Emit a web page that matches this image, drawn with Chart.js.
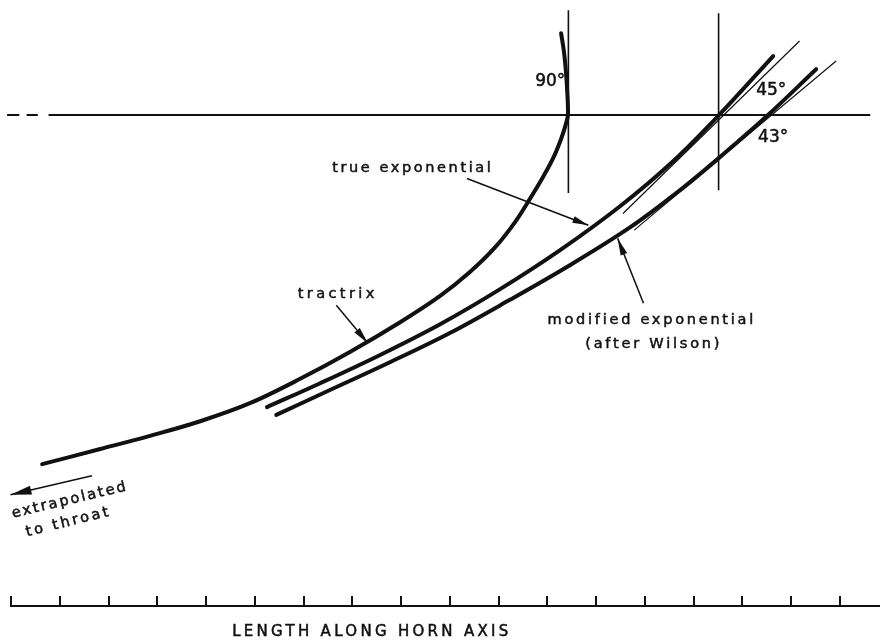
<!DOCTYPE html>
<html>
<head>
<meta charset="utf-8">
<title>Horn flare profiles</title>
<script src="https://cdn.jsdelivr.net/npm/chart.js@4.4.1/dist/chart.umd.min.js"></script>
<style>
  html, body { margin: 0; padding: 0; background: #fff; }
  #wrap { width: 880px; height: 640px; }
</style>
</head>
<body>
<div id="wrap"><canvas id="hornChart"></canvas></div>
<script>
// units: one tick of the horn axis, same unit used for the radius
const axisTicks = [0, 1, 2, 3, 4, 5, 6, 7, 8, 9, 10, 11, 12, 13, 14, 15, 16, 17];

const tractrixX = [0.64, 1.83, 2.85, 3.88, 4.90, 5.93, 6.95, 7.98, 8.80, 9.41, 9.93, 10.34, 10.64, 10.91, 11.12, 11.28, 11.38, 11.42, 11.41, 11.38, 11.34, 11.28];
const tractrixY = [2.91, 3.22, 3.49, 3.79, 4.16, 4.66, 5.21, 5.82, 6.36, 6.85, 7.36, 7.88, 8.35, 8.80, 9.19, 9.58, 9.89, 10.07, 10.48, 10.95, 11.36, 11.75];

const trueExpX = [5.25, 6.34, 7.57, 8.80, 10.03, 11.26, 12.49, 13.52, 14.50, 15.63];
const trueExpY = [4.08, 4.57, 5.15, 5.78, 6.50, 7.30, 8.20, 9.07, 10.05, 11.28];

const modExpX = [5.44, 6.54, 7.77, 9.00, 10.23, 11.46, 12.70, 13.72, 14.54, 15.50, 16.51];
const modExpY = [3.92, 4.43, 5.00, 5.60, 6.28, 6.99, 7.77, 8.53, 9.21, 10.05, 11.01];

// straight tangents at the mouth (45 deg and 43 deg)
const tangent45X = [12.55, 16.17];
const tangent45Y = [8.05, 11.59];
const tangent43X = [12.78, 16.92];
const tangent43Y = [7.71, 11.18];

// mouth radius level, drawn dashed at the far left
const mouthLevel = 10.07;
const mouthSpans = [[-0.08, 0.17], [0.32, 0.55], [0.77, 17.62]];

// vertical markers where the curves cross the mouth level
const markerX = [11.43, 14.51];
const markerTop = [12.22, 12.16];
const markerBottom = [8.47, 8.53];

// pointer arrows: [tailX, tailY, tipX, tipY]
const pointerTrueExp = [9.35, 8.77, 11.84, 7.81];
const pointerModExp = [12.97, 6.21, 12.44, 7.54];
const pointerTractrix = [6.67, 6.17, 7.32, 5.39];
const pointerThroat = [1.66, 2.67, -0.01, 2.28];

const ink = '#111';

function pts(xs, ys) {
    return xs.map((x, i) => ({ x: x, y: ys[i] }));
}

function curve(xs, ys, width) {
    return { data: pts(xs, ys), borderColor: ink, borderWidth: width, tension: 0.35, borderCapStyle: 'round' };
}

function straight(points, width) {
    return { data: points, borderColor: ink, borderWidth: width, tension: 0, borderCapStyle: 'butt' };
}

function arrow(p, headLength, headWidth) {
    return {
        data: [{ x: p[0], y: p[1] }, { x: p[2], y: p[3] }],
        borderColor: ink, borderWidth: 1.5, tension: 0,
        headLength: headLength, headWidth: headWidth
    };
}

const mouthPoints = [];
mouthSpans.forEach(s => {
    mouthPoints.push({ x: s[0], y: mouthLevel }, { x: s[1], y: mouthLevel }, { x: s[1], y: null });
});

const datasets = [
    straight(mouthPoints, 2),
    straight([{ x: markerX[0], y: markerTop[0] }, { x: markerX[0], y: markerBottom[0] }], 1.6),
    straight([{ x: markerX[1], y: markerTop[1] }, { x: markerX[1], y: markerBottom[1] }], 1.6),
    straight(pts(tangent45X, tangent45Y), 1.2),
    straight(pts(tangent43X, tangent43Y), 1.2),
    curve(tractrixX, tractrixY, 4),
    curve(trueExpX, trueExpY, 4),
    curve(modExpX, modExpY, 4),
    arrow(pointerTrueExp, 16, 7),
    arrow(pointerModExp, 17, 7),
    arrow(pointerTractrix, 17, 7),
    arrow(pointerThroat, 21, 9)
];
datasets.forEach(d => { d.showLine = true; d.clip = false; d.spanGaps = false; });

// text placed in chart units
const notes = [
    { text: '90°', x: 10.75, y: 10.66, size: 17, align: 'left', spacing: 0, rot: 0 },
    { text: '45°', x: 15.28, y: 10.48, size: 17, align: 'left', spacing: 0, rot: 0 },
    { text: '43°', x: 15.32, y: 9.51, size: 17, align: 'left', spacing: 0, rot: 0 },
    { text: 'true exponential', x: 8.24, y: 8.90, size: 14.5, align: 'center', spacing: 2.6, rot: 0 },
    { text: 'tractrix', x: 6.70, y: 6.32, size: 14.5, align: 'center', spacing: 3.4, rot: 0 },
    { text: 'modified exponential', x: 13.14, y: 5.78, size: 14.5, align: 'center', spacing: 2.75, rot: 0 },
    { text: '(after Wilson)', x: 13.18, y: 5.30, size: 14.5, align: 'center', spacing: 2.8, rot: 0 },
    { text: 'extrapolated', x: 0.04, y: 1.81, size: 14.5, align: 'left', spacing: 2.2, rot: -13.5 },
    { text: 'to throat', x: 0.33, y: 1.43, size: 14.5, align: 'left', spacing: 2.7, rot: -14 },
    { text: 'LENGTH ALONG HORN AXIS', x: 7.40, y: -0.62, size: 15, align: 'center', spacing: 3.3, rot: 0 }
];

const arrowHeads = {
    id: 'arrowHeads',
    afterDatasetsDraw(chart) {
        const ctx = chart.ctx;
        chart.data.datasets.forEach((ds, i) => {
            if (!ds.headLength) return;
            const els = chart.getDatasetMeta(i).data;
            const tail = els[0], tip = els[els.length - 1];
            const ang = Math.atan2(tip.y - tail.y, tip.x - tail.x);
            ctx.save();
            ctx.translate(tip.x, tip.y);
            ctx.rotate(ang);
            ctx.beginPath();
            ctx.moveTo(0, 0);
            ctx.lineTo(-ds.headLength, -ds.headWidth / 2);
            ctx.lineTo(-ds.headLength, ds.headWidth / 2);
            ctx.closePath();
            ctx.fillStyle = ds.borderColor;
            ctx.fill();
            ctx.restore();
        });
    }
};

const noteText = {
    id: 'noteText',
    afterDraw(chart) {
        const ctx = chart.ctx;
        const xs = chart.scales.x, ys = chart.scales.y;
        notes.forEach(n => {
            ctx.save();
            ctx.translate(xs.getPixelForValue(n.x), ys.getPixelForValue(n.y));
            ctx.rotate(n.rot * Math.PI / 180);
            ctx.font = n.size + 'px "DejaVu Sans"';
            ctx.letterSpacing = n.spacing + 'px';
            ctx.fillStyle = ink;
            ctx.strokeStyle = ink;
            ctx.lineWidth = 0.5;
            ctx.textAlign = n.align;
            ctx.textBaseline = 'alphabetic';
            ctx.fillText(n.text, 0, 0);
            ctx.strokeText(n.text, 0, 0);
            ctx.restore();
        });
    }
};

new Chart(document.getElementById('hornChart'), {
    type: 'scatter',
    data: { datasets: datasets },
    options: {
        responsive: true,
        maintainAspectRatio: false,
        animation: false,
        events: [],
        layout: { padding: { left: 11, right: 0, top: 0, bottom: 0 } },
        elements: { point: { radius: 0, hoverRadius: 0 } },
        plugins: { legend: { display: false }, tooltip: { enabled: false } },
        scales: {
            x: {
                type: 'linear',
                min: 0,
                max: 17.82,
                afterBuildTicks: (scale) => { scale.ticks = axisTicks.map(v => ({ value: v })); },
                afterFit: (scale) => { scale.height = 34; },
                ticks: { display: false },
                grid: { drawOnChartArea: false, drawTicks: true, tickLength: -10, color: ink, lineWidth: 2 },
                border: { display: true, color: ink, width: 2 }
            },
            y: {
                type: 'linear',
                display: false,
                min: 0,
                max: 12.43
            }
        }
    },
    plugins: [arrowHeads, noteText]
});
</script>
</body>
</html>
